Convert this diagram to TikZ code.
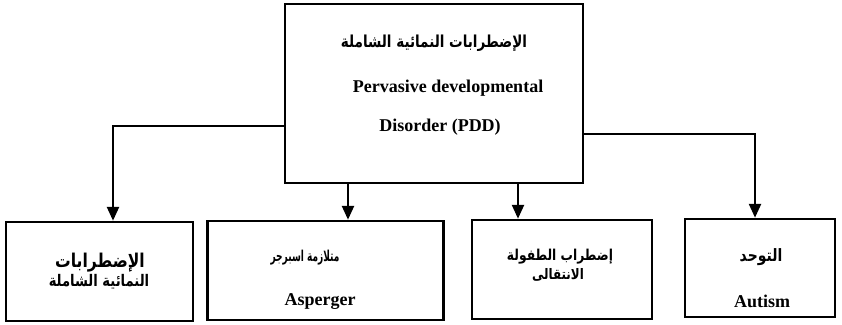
\documentclass[tikz,border=0pt]{standalone}
\usepackage{fontspec}
\setmainfont{Liberation Serif}
\newfontfamily\arabicfont[Script=Arabic,FakeStretch=0.82]{DejaVu Sans}
\newfontfamily\arabicnarrow[Script=Arabic,FakeStretch=0.6]{DejaVu Sans}
\TeXXeTstate=1
\usetikzlibrary{arrows.meta}
\newcommand{\arsz}[1]{\arabicfont\fontsize{#1}{#1}\selectfont\bfseries}
\newcommand{\arnsz}[1]{\arabicnarrow\fontsize{#1}{#1}\selectfont\bfseries}
\begin{document}
\begin{tikzpicture}[x=1pt,y=-1pt,
  boxnode/.style={draw, line width=2.5pt, rectangle, inner sep=0pt},
  arr/.style={line width=2.5pt, -{Triangle[width=12pt,length=14pt]}},
  en/.style={font=\fontsize{18}{20}\selectfont\bfseries, inner sep=0pt},
  ar/.style={inner sep=0pt}]
\useasboundingbox (0,0) rectangle (842,324);
% boxes
\node[boxnode, minimum width=298pt, minimum height=179pt] (main) at (434,93.5) {};
\node[boxnode, minimum width=187pt, minimum height=99pt] (b1) at (99.5,271.5) {};
\node[boxnode, minimum width=236pt, minimum height=99pt] (b2) at (325.5,270.5) {};
\node[boxnode, minimum width=180pt, minimum height=99pt] (b3) at (562,269.5) {};
\node[boxnode, minimum width=150pt, minimum height=98pt] (b4) at (760,268) {};
% texts
\node[ar, font=\arsz{16.5}] (t0) at (434,43) {\beginR الإضطرابات النمائية الشاملة\endR};
\node[en] (t1) at (448,88) {Pervasive developmental};
\node[en] (t2) at (440,127) {Disorder (PDD)};
\node[ar, font=\arsz{19}] (t3) at (100,263) {\beginR الإضطرابات\endR};
\node[ar, font=\arsz{16}] (t4) at (99,282) {\beginR النمائية الشاملة\endR};
\node[ar, font=\arnsz{15}] (t5) at (305,258) {\beginR متلازمة اسبرجر\endR};
\node[en] (t6) at (320,302) {Asperger};
\node[ar, font=\arsz{15}] (t7) at (560,257) {\beginR إضطراب الطفولة\endR};
\node[ar, font=\arsz{14.5}] (t8) at (558,275) {\beginR الانتقالى\endR};
\node[ar, font=\arsz{17}] (t9) at (761,257) {\beginR التوحد\endR};
\node[en] (t10) at (762,301) {Autism};
% connectors
\coordinate (xa) at (113,126);
\coordinate (xb) at (348,0);
\coordinate (xc) at (518,0);
\coordinate (xd) at (755,134);
\draw[arr] (main.west |- xa) -| (b1.north -| xa);
\draw[arr] (main.south -| xb) -- (b2.north -| xb);
\draw[arr] (main.south -| xc) -- (b3.north -| xc);
\draw[arr] (main.east |- xd) -| (b4.north -| xd);
\end{tikzpicture}
\end{document}
